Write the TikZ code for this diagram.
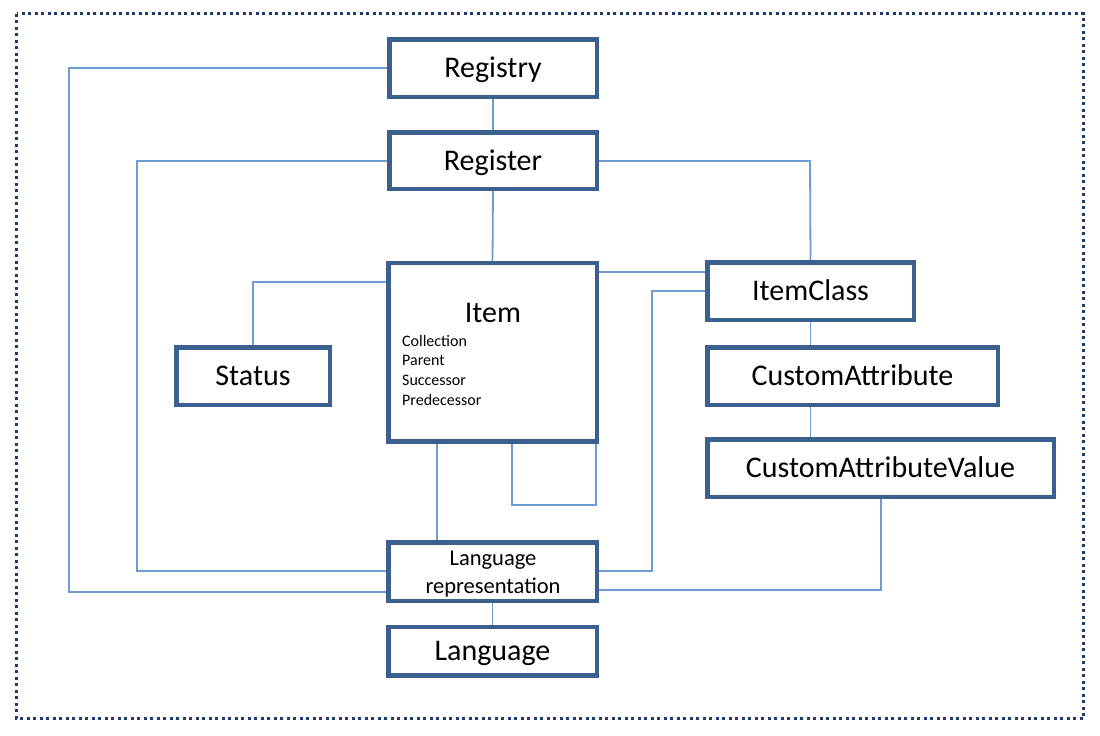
\documentclass[tikz,border=0pt]{standalone}
\usepackage{fontspec}
\setmainfont{Carlito}
\definecolor{boxc}{HTML}{3B5F8F}
\definecolor{linec}{HTML}{6F9BD4}
\definecolor{dotc}{HTML}{1F3C6A}
\begin{document}
\begin{tikzpicture}[x=1pt,y=-1pt,
  ebox/.style={draw=boxc,line width=3pt,fill=white,inner sep=0pt,font=\fontsize{30}{34}\selectfont,text=black,text height=19.3pt,text depth=0pt},
  small/.style={anchor=base west,font=\fontsize{16}{19}\selectfont,inner sep=0pt},
  mid/.style={anchor=base,font=\fontsize{22.5}{28}\selectfont,inner sep=0pt},
  conn/.style={draw=linec,line width=1.8pt}]
\useasboundingbox[fill=white] (0,0) rectangle (1100,736);
\draw[dotc,line width=3pt,dash pattern=on 3pt off 3.5pt] (16.5,13.5) rectangle (1083.5,718.5);
% free-end coordinates
\coordinate (a1) at (69,68);
\coordinate (a2) at (69,592);
\coordinate (b1) at (137,161);
\coordinate (b2) at (137,571);
\coordinate (c1) at (810,161);
\coordinate (d1) at (253,282);
\coordinate (e1) at (652,291);
\coordinate (e2) at (652,571);
\coordinate (f1) at (881,590);
\coordinate (g1) at (512,505);
\coordinate (g2) at (596,505);
% boxes
\node[ebox,minimum width=206pt,minimum height=56pt] (registry) at (493,68) {Registry};
\node[ebox,minimum width=206pt,minimum height=55pt] (register) at (493,160.5) {Register};
\node[ebox,minimum width=207pt,minimum height=177pt] (item) at (492.5,352) {};
\node[ebox,minimum width=152pt,minimum height=56pt] (status) at (253,376) {Status};
\node[ebox,minimum width=205pt,minimum height=56pt] (itemclass) at (810.5,291) {ItemClass};
\node[ebox,minimum width=289pt,minimum height=56pt] (cattr) at (852.5,376) {CustomAttribute};
\node[ebox,minimum width=345pt,minimum height=56pt] (cav) at (880.5,468) {CustomAttributeValue};
\node[ebox,minimum width=207pt,minimum height=57pt] (langrep) at (492.5,571.5) {};
\node[ebox,minimum width=207pt,minimum height=47pt] (language) at (492.5,651) {Language};
% texts of composite boxes
\node[anchor=base,font=\fontsize{30}{34}\selectfont,inner sep=0pt] (itemtitle) at (493,322) {Item};
\node[small] (at1) at (402,346) {Collection};
\node[small] (at2) at (402,365.7) {Parent};
\node[small] (at3) at (402,385.4) {Successor};
\node[small] (at4) at (402,405.1) {Predecessor};
\node[mid] (lr1) at (493,565) {Language};
\node[mid] (lr2) at (493,593) {representation};
% connectors
\draw[conn] (registry.west |- a1) -- (a1) -- (a2) -- (langrep.west |- a2);
\draw[conn] (registry.south) -- (register.north);
\draw[conn] (register.west |- b1) -- (b1) -- (b2) -- (langrep.west |- b2);
\draw[conn] (register.east |- c1) -- (c1) -- (itemclass.north);
\draw[conn] (register.south) -- (item.north);
\draw[conn] (item.west |- d1) -- (d1) -- (status.north);
\draw[conn] (item.east |- 0,272) -- (itemclass.west |- 0,272);
\draw[conn] (itemclass.west |- e1) -- (e1) -- (e2) -- (langrep.east |- e2);
\draw[conn] (itemclass.south) -- (cattr.north -| itemclass.south);
\draw[conn] (cattr.south -| itemclass.south) -- (cav.north -| itemclass.south);
\draw[conn] (cav.south -| f1) -- (f1) -- (langrep.east |- f1);
\draw[conn] (item.south -| 437,0) -- (langrep.north -| 437,0);
\draw[conn] (item.south -| g1) -- (g1) -- (g2) -- (g2 |- item.south);
\draw[conn] (langrep.south) -- (language.north);
% redraw box borders over connector ends
\foreach \n in {registry,register,item,status,itemclass,cattr,cav,langrep,language}
  \draw[boxc,line width=3pt] (\n.south west) rectangle (\n.north east);
\end{tikzpicture}
\end{document}
